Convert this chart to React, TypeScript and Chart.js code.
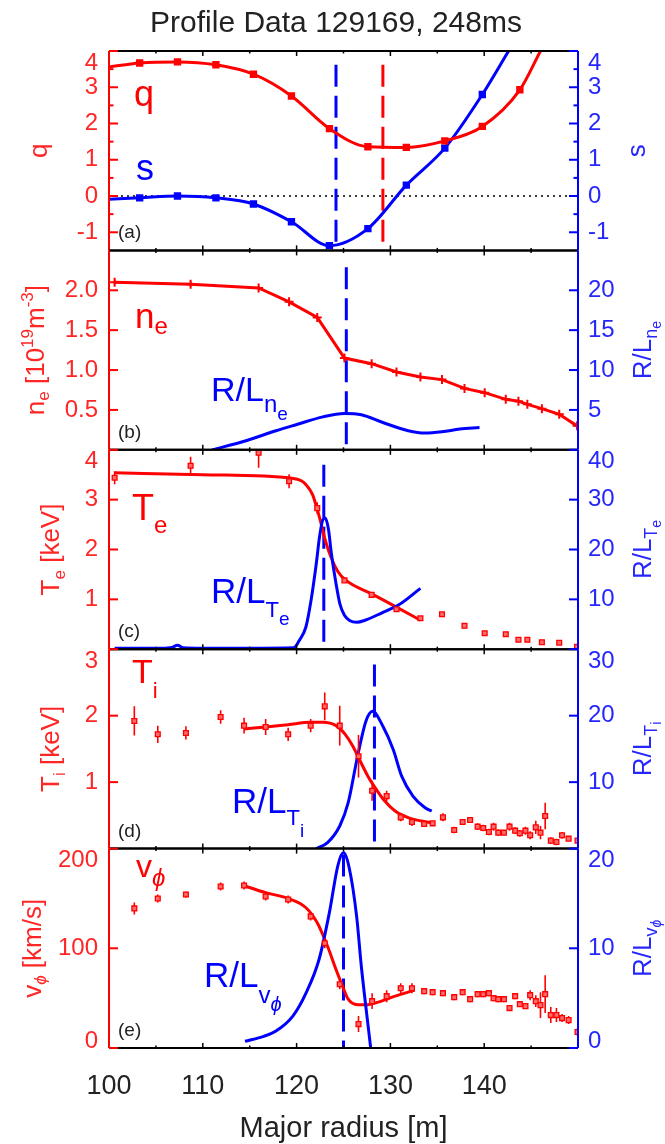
import { useEffect, useRef } from 'react';
import { Chart, registerables } from 'chart.js';

Chart.register(...registerables);

// ---------------- data ----------------
const X_TICKS = [100, 110, 120, 130, 140];
const X_MINOR = [105, 115, 125, 135, 145];

// panel (a): q and magnetic shear s
const Q_R = [100, 103.27, 107.3, 111.4, 115.4, 119.45, 123.5, 127.6, 131.7, 135.8, 139.8, 143.8, 146.0];
const Q_VAL = [3.56, 3.67, 3.7, 3.62, 3.36, 2.76, 1.86, 1.36, 1.34, 1.52, 1.92, 2.93, 4.0];
const S_R = [100, 103.27, 107.3, 111.4, 115.4, 119.45, 123.5, 127.6, 131.7, 135.8, 139.8, 142.6];
const S_VAL = [-0.09, -0.05, 0.0, -0.05, -0.22, -0.71, -1.37, -0.9, 0.3, 1.32, 2.8, 4.0];
const ZERO_R = [100, 150];
const ZERO_VAL = [0, 0];

// Thomson channels: ne (b) and Te (c)
const TS_R = [100.6, 108.7, 115.95, 119.2, 122.2, 125.1, 128.0, 130.65, 133.2, 135.5, 137.9, 140.05, 142.3, 143.65, 144.6, 146.15, 148.0, 149.9];
const NE_VAL = [2.1, 2.075, 2.03, 1.855, 1.66, 1.15, 1.08, 0.976, 0.914, 0.88, 0.77, 0.716, 0.633, 0.61, 0.57, 0.516, 0.445, 0.3];
const NE_ERR = [0.035, 0.035, 0.03, 0.03, 0.03, 0.03, 0.02, 0.02, 0.02, 0.02, 0.02, 0.02, 0.02, 0.02, 0.02, 0.02, 0.02, 0.02];
const TE_VAL = [3.44, 3.68, 3.94, 3.37, 2.83, 1.38, 1.09, 0.8, 0.62, 0.7, 0.47, 0.32, 0.3, 0.19, 0.19, 0.14, 0.13, 0.05];
const TE_ERR = [0.13, 0.18, 0.3, 0.14, 0.12, 0.05, 0.05, 0.04, 0.04, 0.04, 0.03, 0.03, 0.03, 0.03, 0.03, 0.02, 0.02, 0.02];
const TE_FIT_R = [100.6, 110, 119.5, 120.5, 121.0, 121.7, 122.1, 122.6, 123.05, 123.7, 124.4, 125.2, 128.0, 130.6, 133.2];
const TE_FIT = [3.54, 3.5, 3.43, 3.38, 3.3, 3.1, 2.87, 2.53, 2.19, 1.83, 1.56, 1.39, 1.11, 0.85, 0.58];
const RLNE_R = [111.0, 114.6, 117.8, 120.1, 122.8, 125.1, 126.9, 129.2, 131.9, 133.7, 135.5, 137.4, 139.5];
const RLNE = [0.0, 1.14, 2.39, 3.2, 4.13, 4.55, 4.4, 3.42, 2.39, 2.1, 2.26, 2.6, 2.8];
const RLTE_R = [100.6, 105.6, 106.7, 107.3, 107.9, 110, 115, 119.7, 120.3, 121.0, 121.55, 122.1, 122.45, 122.8, 123.05, 123.4, 123.7, 124.2, 124.6, 125.1, 125.7, 126.4, 127.3, 129.1, 130.9, 133.2];
const RLTE = [0.2, 0.2, 0.35, 0.8, 0.3, 0.2, 0.2, 0.3, 1.8, 4.5, 9.9, 17.2, 22.6, 26.0, 26.3, 24.0, 19.3, 13.2, 9.2, 6.8, 5.7, 5.4, 5.8, 7.3, 8.9, 12.2];

// CER channels: Ti (d) and v_phi (e)
const CER_R = [102.7, 105.2, 108.2, 111.9, 114.4, 116.7, 119.1, 121.5, 123.0, 124.6, 126.6, 128.05, 129.6, 131.1, 132.3, 133.6, 134.5, 135.6, 136.8, 137.7, 138.5, 139.3, 139.9, 140.5, 141.0, 141.5, 142.1, 142.7, 143.3, 143.8, 144.4, 144.9, 145.5, 146.0, 146.5, 147.1, 147.7, 148.3, 149.0, 149.95];
const TI_VAL = [1.92, 1.72, 1.74, 1.98, 1.85, 1.83, 1.72, 1.85, 2.14, 1.85, 1.39, 0.87, 0.79, 0.47, 0.4, 0.37, 0.38, 0.47, 0.28, 0.4, 0.43, 0.33, 0.31, 0.25, 0.33, 0.24, 0.24, 0.33, 0.27, 0.23, 0.27, 0.2, 0.32, 0.24, 0.49, 0.12, 0.1, 0.2, 0.15, 0.12];
const TI_ERR = [0.22, 0.13, 0.1, 0.1, 0.12, 0.12, 0.1, 0.1, 0.21, 0.3, 0.32, 0.15, 0.08, 0.06, 0.06, 0.04, 0.04, 0.06, 0.05, 0.04, 0.04, 0.05, 0.05, 0.05, 0.06, 0.05, 0.04, 0.06, 0.05, 0.05, 0.06, 0.06, 0.1, 0.1, 0.2, 0.05, 0.05, 0.05, 0.04, 0.04];
const V_VAL = [140, 150, 154, 162, 163, 152, 149, 132, 105, 64, 24, 47, 52, 60, 60, 57, 56, 55, 51, 56, 49, 54, 54, 55, 50, 49, 49, 40, 52, 44, 42, 53, 47, 43, 54, 33, 33, 30, 28, 16];
const V_ERR = [6, 4, 3, 4, 4, 4, 4, 4, 5, 5, 8, 8, 6, 5, 5, 3, 3, 3, 3, 3, 3, 3, 3, 3, 3, 3, 3, 3, 3, 3, 3, 5, 6, 13, 19, 8, 7, 4, 4, 4];
const TI_FIT_R = [114.4, 116.7, 119.1, 121.45, 122.8, 124.2, 125.2, 126.0, 126.7, 127.6, 128.5, 129.4, 130.5, 131.9, 133.3, 134.4];
const TI_FIT = [1.8, 1.83, 1.865, 1.9, 1.9, 1.85, 1.715, 1.54, 1.34, 1.09, 0.89, 0.715, 0.565, 0.465, 0.415, 0.39];
const V_FIT_R = [114.5, 116.7, 119.2, 121.0, 122.2, 123.3, 124.2, 124.9, 125.5, 126.5, 127.6, 128.7, 130.5, 132.6];
const V_FIT = [162.5, 155.8, 149.7, 140.7, 125.6, 102, 78.7, 62, 49, 43.5, 43.5, 46, 52, 58];
const RLTI_R = [122.1, 123.3, 124.6, 125.5, 126.5, 127.4, 128.1, 129.2, 130.3, 131.2, 132.4, 133.7, 134.4];
const RLTI = [0, 0.9, 3.4, 6.9, 13.9, 19.2, 20.65, 18.4, 14.9, 10.9, 7.9, 6.15, 5.65];
const RLV_R = [114.5, 116.5, 117.8, 119.6, 121.0, 122.4, 123.5, 124.4, 125.0, 125.6, 126.4, 126.9, 127.5, 127.9];
const RLV = [0.67, 1.17, 1.7, 3.2, 5.5, 8.9, 13.6, 18.3, 19.6, 18.1, 13.2, 8.2, 3.2, 0];

// dashed vertical markers: (a) blue, (a) red, (b), (c), (d), (e)
const VLINE_R = [124.2, 129.2, 125.3, 122.9, 128.3, 125.0];
const VLINE_TOP = [3.62, 3.62, 2.29, 3.7, 2.77, 194];
const VLINE_BOTTOM = [-1.5, -1.5, 0, 0, 0, 0];

// tick labels
const A_TICKS = [-1, 0, 1, 2, 3, 4];
const A_MINOR = [-0.5, 0.5, 1.5, 2.5, 3.5];
const B_TICKS_L = [0.5, 1.0, 1.5, 2.0];
const B_TICKS_R = [5, 10, 15, 20];
const C_TICKS_L = [1, 2, 3, 4];
const C_TICKS_R = [10, 20, 30, 40];
const D_TICKS_L = [1, 2, 3];
const D_TICKS_R = [10, 20, 30];
const E_TICKS_L = [0, 100, 200];
const E_TICKS_R = [0, 10, 20];

// ---------------- styling ----------------
const FONT = '"Liberation Sans", Helvetica, Arial, sans-serif';
const RED = '#ff0000';
const BLUE = '#0000ff';
const RED_T = '#ff2626';
const BLUE_T = '#2626ff';
const INK = '#222222';
const LEFT_W = 109;
const RIGHT_W = 87;

type Seg = [string, number, number, boolean?];

function drawRich(ctx: any, segs: Seg[], x: number, y: number, color: string, rot = 0, center = false) {
  ctx.save();
  ctx.translate(x, y);
  if (rot) ctx.rotate(rot);
  ctx.fillStyle = color;
  ctx.textAlign = 'left';
  ctx.textBaseline = 'alphabetic';
  const f = (s: Seg) => `${s[3] ? 'italic ' : ''}${s[1]}px ${FONT}`;
  let total = 0;
  const ws = segs.map((s) => {
    ctx.font = f(s);
    const w = ctx.measureText(s[0]).width;
    total += w;
    return w;
  });
  let cx = center ? -total / 2 : 0;
  segs.forEach((s, i) => {
    ctx.font = f(s);
    ctx.fillText(s[0], cx, s[2]);
    cx += ws[i];
  });
  ctx.restore();
}

const int = (v: number) => String(v);
const one = (v: number) => v.toFixed(1);

const PANELS = [
  { l: 'qa', r: 'sa', lt: A_TICKS, rt: A_TICKS, lm: A_MINOR, rm: A_MINOR, lf: int, rf: int,
    lTitle: [['q', 26, 0]] as Seg[], lx: 47, rTitle: [['s', 26, 0]] as Seg[], rx: 645, letter: '(a)' },
  { l: 'nb', r: 'rb', lt: B_TICKS_L, rt: B_TICKS_R, lm: [], rm: [], lf: one, rf: int,
    lTitle: [['n', 26, 0], ['e', 17, 5], [' [10', 26, 0], ['19', 17, -11], ['m', 26, 0], ['-3', 17, -11], [']', 26, 0]] as Seg[], lx: 44,
    rTitle: [['R/L', 26, 0], ['n', 18, 6], ['e', 14, 10]] as Seg[], rx: 651, letter: '(b)' },
  { l: 'tc', r: 'rc', lt: C_TICKS_L, rt: C_TICKS_R, lm: [], rm: [], lf: int, rf: int,
    lTitle: [['T', 26, 0], ['e', 17, 6], [' [keV]', 26, 0]] as Seg[], lx: 59,
    rTitle: [['R/L', 26, 0], ['T', 18, 6], ['e', 14, 10]] as Seg[], rx: 651, letter: '(c)' },
  { l: 'id', r: 'ri', lt: D_TICKS_L, rt: D_TICKS_R, lm: [], rm: [], lf: int, rf: int,
    lTitle: [['T', 26, 0], ['i', 17, 6], [' [keV]', 26, 0]] as Seg[], lx: 59,
    rTitle: [['R/L', 26, 0], ['T', 18, 6], ['i', 14, 10]] as Seg[], rx: 651, letter: '(d)' },
  { l: 've', r: 'rv', lt: E_TICKS_L, rt: E_TICKS_R, lm: [], rm: [], lf: int, rf: int,
    lTitle: [['v', 26, 0], ['ϕ', 17, 5, true], [' [km/s]', 26, 0]] as Seg[], lx: 41,
    rTitle: [['R/L', 26, 0], ['v', 18, 6], ['ϕ', 14, 10, true]] as Seg[], rx: 651, letter: '(e)' },
];

const ANNOT: { x: number; y: number; c: string; segs: Seg[] }[] = [
  { x: 134, y: 106, c: RED, segs: [['q', 36, 0]] },
  { x: 136, y: 180, c: BLUE, segs: [['s', 36, 0]] },
  { x: 135, y: 328, c: RED, segs: [['n', 35, 0], ['e', 24, 6]] },
  { x: 211, y: 401, c: BLUE, segs: [['R/L', 34, 0], ['n', 24, 11], ['e', 19, 19]] },
  { x: 132, y: 520, c: RED, segs: [['T', 36, 0], ['e', 24, 13]] },
  { x: 211, y: 603, c: BLUE, segs: [['R/L', 35, 0], ['T', 22, 14], ['e', 19, 22]] },
  { x: 132, y: 683, c: RED, segs: [['T', 34, 0], ['i', 22, 15]] },
  { x: 232, y: 813, c: BLUE, segs: [['R/L', 35, 0], ['T', 22, 12], ['i', 19, 24]] },
  { x: 136, y: 877, c: RED, segs: [['v', 32, 0], ['ϕ', 24, 9, true]] },
  { x: 204, y: 987, c: BLUE, segs: [['R/L', 35, 0], ['v', 24, 16], ['ϕ', 20, 24, true]] },
];

const framePlugin = {
  id: 'frame',
  afterDatasetsDraw(chart: any) {
    const ctx = chart.ctx;
    const xs = chart.scales.x;
    const L = xs.left;
    const R = xs.right;
    const seg = (x1: number, y1: number, x2: number, y2: number) => {
      ctx.beginPath();
      ctx.moveTo(x1, y1);
      ctx.lineTo(x2, y2);
      ctx.stroke();
    };
    ctx.save();
    ctx.lineCap = 'butt';
    PANELS.forEach((p) => {
      const ls = chart.scales[p.l];
      const rs = chart.scales[p.r];
      const top = ls.top;
      const bot = ls.bottom;
      // horizontal frame lines with inward x ticks
      ctx.strokeStyle = '#000';
      ctx.lineWidth = 2;
      seg(L, top, R, top);
      seg(L, bot, R, bot);
      ctx.lineWidth = 1.5;
      X_TICKS.forEach((v) => {
        if (v === 100) return;
        const px = xs.getPixelForValue(v);
        seg(px, top, px, top + 5);
        seg(px, bot, px, bot - 5);
      });
      X_MINOR.forEach((v) => {
        const px = xs.getPixelForValue(v);
        seg(px, top, px, top + 2.5);
        seg(px, bot, px, bot - 2.5);
      });
      // left axis
      ctx.strokeStyle = RED;
      ctx.lineWidth = 2;
      seg(L, top, L, bot);
      p.lt.forEach((v) => { const py = ls.getPixelForValue(v); seg(L, py, L + 9, py); });
      p.lm.forEach((v) => { const py = ls.getPixelForValue(v); seg(L, py, L + 4.5, py); });
      // right axis
      ctx.strokeStyle = BLUE;
      seg(R, top, R, bot);
      p.rt.forEach((v) => { const py = rs.getPixelForValue(v); seg(R, py, R - 9, py); });
      p.rm.forEach((v) => { const py = rs.getPixelForValue(v); seg(R, py, R - 4.5, py); });
      // tick labels
      ctx.font = `24px ${FONT}`;
      ctx.textBaseline = 'middle';
      const clampY = (y: number) => Math.min(Math.max(y, top + 12), bot - 7);
      ctx.fillStyle = RED_T;
      ctx.textAlign = 'right';
      p.lt.forEach((v) => ctx.fillText(p.lf(v), L - 11, clampY(ls.getPixelForValue(v))));
      ctx.fillStyle = BLUE_T;
      ctx.textAlign = 'left';
      p.rt.forEach((v) => ctx.fillText(p.rf(v), R + 10, clampY(rs.getPixelForValue(v))));
      // axis titles
      const mid = (top + bot) / 2;
      drawRich(ctx, p.lTitle, p.lx, mid, RED_T, -Math.PI / 2, true);
      drawRich(ctx, p.rTitle, p.rx, mid, BLUE_T, -Math.PI / 2, true);
      // panel letter
      drawRich(ctx, [[p.letter, 19, 0]], L + 9, bot - 12, INK);
    });
    ANNOT.forEach((a) => drawRich(ctx, a.segs, a.x, a.y, a.c));
    // title and x title
    ctx.fillStyle = INK;
    ctx.textAlign = 'center';
    ctx.textBaseline = 'alphabetic';
    ctx.font = `30px ${FONT}`;
    ctx.fillText('Profile Data 129169, 248ms', 336, 32);
    ctx.font = `29px ${FONT}`;
    ctx.fillText('Major radius [m]', (L + R) / 2, 1137);
    ctx.restore();
  },
};

// ---------------- datasets ----------------
const pts = (xs: number[], ys: number[]) => xs.map((x, i) => ({ x, y: ys[i] }));
const errSegs = (xs: number[], ys: number[], es: number[]) =>
  xs.flatMap((x, i) => [{ x, y: ys[i] - es[i] }, { x, y: ys[i] + es[i] }, { x, y: null as any }]);

const curve = (axis: string, data: any[], color: string, extra: any = {}) => ({
  data, yAxisID: axis, xAxisID: 'x', showLine: true, borderColor: color, backgroundColor: color,
  borderWidth: 3, pointRadius: 0, cubicInterpolationMode: 'monotone', fill: false, spanGaps: false, ...extra,
});
const markers = (axis: string, data: any[], style: any) => ({
  data, yAxisID: axis, xAxisID: 'x', showLine: false, ...style,
});
const errBars = (axis: string, data: any[]) => ({
  data, yAxisID: axis, xAxisID: 'x', showLine: true, borderColor: RED, borderWidth: 1.6,
  pointRadius: 0, spanGaps: false, fill: false,
});

const SQ = { pointStyle: 'rect', pointRadius: 3.4, pointBackgroundColor: '#ff6a6a', pointBorderColor: RED, pointBorderWidth: 1.3 };
const VAXES = ['qa', 'qa', 'nb', 'tc', 'id', 've'];
const VCOLORS = [BLUE, RED, BLUE, BLUE, BLUE, BLUE];

function buildDatasets() {
  const ds: any[] = [];
  // (a)
  const endR = (n: number) => (c: any) => (c.dataIndex === 0 || c.dataIndex === n - 1 ? 0 : 5.2);
  ds.push(curve('qa', pts(Q_R, Q_VAL), RED, { pointStyle: 'rect', pointRadius: endR(Q_R.length), pointBackgroundColor: RED, pointBorderWidth: 0 }));
  ds.push(curve('sa', pts(S_R, S_VAL), BLUE, { pointStyle: 'rect', pointRadius: endR(S_R.length), pointBackgroundColor: BLUE, pointBorderWidth: 0 }));
  // markers / error bars
  ds.push(markers('nb', pts(TS_R, NE_VAL), { pointStyle: 'cross', pointRadius: 4.5, pointBorderColor: RED, pointBorderWidth: 2 }));
  ds.push(errBars('nb', errSegs(TS_R, NE_VAL, NE_ERR)));
  ds.push(markers('tc', pts(TS_R, TE_VAL), SQ));
  ds.push(errBars('tc', errSegs(TS_R, TE_VAL, TE_ERR)));
  ds.push(markers('id', pts(CER_R, TI_VAL), SQ));
  ds.push(errBars('id', errSegs(CER_R, TI_VAL, TI_ERR)));
  ds.push(markers('ve', pts(CER_R, V_VAL), SQ));
  ds.push(errBars('ve', errSegs(CER_R, V_VAL, V_ERR)));
  // blue gradient curves
  ds.push(curve('rb', pts(RLNE_R, RLNE), BLUE));
  ds.push(curve('rc', pts(RLTE_R, RLTE), BLUE));
  ds.push(curve('ri', pts(RLTI_R, RLTI), BLUE));
  ds.push(curve('rv', pts(RLV_R, RLV), BLUE));
  // red profiles
  ds.push(curve('nb', pts(TS_R, NE_VAL), RED, { cubicInterpolationMode: 'default', tension: 0 }));
  ds.push(curve('tc', pts(TE_FIT_R, TE_FIT), RED));
  ds.push(curve('id', pts(TI_FIT_R, TI_FIT), RED));
  ds.push(curve('ve', pts(V_FIT_R, V_FIT), RED));
  // reference lines
  ds.push(curve('qa', pts(ZERO_R, ZERO_VAL), '#000', { borderWidth: 1.5, borderDash: [2, 4], cubicInterpolationMode: 'default', tension: 0 }));
  VLINE_R.forEach((r, i) => {
    ds.push(curve(VAXES[i], [{ x: r, y: VLINE_TOP[i] }, { x: r, y: VLINE_BOTTOM[i] }], VCOLORS[i],
      { borderWidth: 3, borderDash: [22, 9], cubicInterpolationMode: 'default', tension: 0 }));
  });
  return ds;
}

const yScale = (stack: string, weight: number, min: number, max: number, width: number, position: string) => ({
  type: 'linear', position, stack, stackWeight: 1, weight, min, max,
  grid: { display: false, drawTicks: false }, border: { display: false }, ticks: { display: false },
  afterFit: (s: any) => { s.width = width; },
});

export default function App() {
  const ref = useRef<HTMLCanvasElement>(null);
  useEffect(() => {
    const chart = new Chart(ref.current as HTMLCanvasElement, {
      type: 'scatter',
      data: { datasets: buildDatasets() },
      options: {
        responsive: false,
        animation: false,
        devicePixelRatio: 1,
        events: [],
        layout: { padding: { top: 51, left: 0, right: 0, bottom: 0 } },
        plugins: { legend: { display: false }, title: { display: false }, tooltip: { enabled: false } },
        scales: {
          x: {
            type: 'linear', position: 'bottom', min: 100, max: 150,
            grid: { display: false, drawTicks: false }, border: { display: false },
            ticks: {
              stepSize: 10, autoSkip: false, maxRotation: 0, padding: 22, color: INK,
              font: { family: FONT, size: 27 },
              callback: (v: any) => (X_TICKS.includes(Number(v)) ? String(v) : ''),
            },
            afterFit: (s: any) => { s.height = 96; },
          },
          qa: yScale('L', 5, -1.5, 4, LEFT_W, 'left'),
          nb: yScale('L', 4, 0, 2.5, LEFT_W, 'left'),
          tc: yScale('L', 3, 0, 4, LEFT_W, 'left'),
          id: yScale('L', 2, 0, 3, LEFT_W, 'left'),
          ve: yScale('L', 1, 0, 200, LEFT_W, 'left'),
          sa: yScale('R', 1, -1.5, 4, RIGHT_W, 'right'),
          rb: yScale('R', 2, 0, 25, RIGHT_W, 'right'),
          rc: yScale('R', 3, 0, 40, RIGHT_W, 'right'),
          ri: yScale('R', 4, 0, 30, RIGHT_W, 'right'),
          rv: yScale('R', 5, 0, 20, RIGHT_W, 'right'),
        } as any,
      } as any,
      plugins: [framePlugin],
    } as any);
    return () => chart.destroy();
  }, []);
  return (
    <div style={{ position: 'absolute', left: 0, top: 0, width: 665, height: 1144, background: '#fff' }}>
      <canvas ref={ref} width={665} height={1144} style={{ display: 'block' }} />
    </div>
  );
}
